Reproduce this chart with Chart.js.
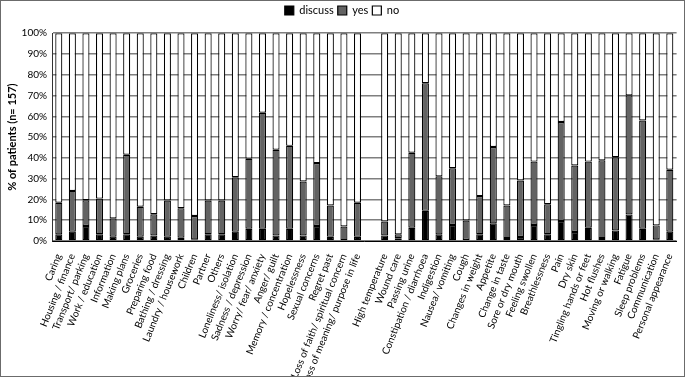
<!DOCTYPE html>
<html>
<head>
<meta charset="utf-8">
<script src="https://cdn.jsdelivr.net/npm/chart.js@4"></script>
<style>
  body { margin: 0; background: #fff; }
  #wrap { width: 685px; height: 377px; box-sizing: border-box; border: 1px solid #6b6b6b; }
</style>
</head>
<body>
<div id="wrap"><canvas id="chart"></canvas></div>
<script>
// categories (empty string = gap between the two groups)
const categories = [
  'Caring', 'Housing / finance', 'Transport/ parking', 'Work / education', 'Information',
  'Making plans', 'Groceries', 'Preparing food', 'Bathing / dressing', 'Laundry / housework',
  'Children', 'Partner', 'Others', 'Loneliness/ isolation', 'Sadness / depression',
  'Worry/ fear/ anxiety', 'Anger/ guilt', 'Memory / concentration', 'Hopelessness',
  'Sexual concerns', 'Regret past', 'Loss of faith/ spiritual concern',
  'Loss of meaning/ purpose in life', '',
  'High temperature', 'Wound care', 'Passing urine', 'Constipation / diarrhoea', 'Indigestion',
  'Nausea/ vomiting', 'Cough', 'Changes in weight', 'Appetite', 'Change in taste',
  'Sore or dry mouth', 'Feeling swollen', 'Breathlessness', 'Pain', 'Dry skin',
  'Tingling hands or feet', 'Hot flushes', 'Moving or walking', 'Fatigue', 'Sleep problems',
  'Communication', 'Personal appearance'
];

// % of patients
const discuss = [
  3.2, 4.5, 7.2, 3.3, 2.1, 3.3, 2.1, 2.7, 2.1, 1.6, 0.8, 3.3, 3.3, 4.5, 5.9,
  5.9, 2.7, 5.9, 2.7, 7.2, 2.0, 0, 2.0, null,
  2.7, 1.3, 6.4, 14.5, 3.2, 7.7, 0.5, 3.3, 8.5, 1.4, 1.9, 7.7, 3.3, 9.6, 4.3,
  6.4, 1.4, 5.1, 12.8, 5.9, 0.8, 4.5
];
const yes = [
  15.2, 19.6, 12.4, 17.1, 8.8, 38.2, 14.4, 10.2, 17.4, 14.2, 11.2, 16.2, 16.2, 26.2, 33.7,
  55.8, 41.2, 39.9, 25.9, 30.3, 15.1, 7.0, 16.4, null,
  6.7, 1.9, 36.1, 61.4, 27.9, 27.3, 9.4, 18.3, 36.7, 15.7, 27.2, 30.5, 14.4, 47.7, 32.0,
  31.8, 37.4, 35.2, 57.3, 52.1, 6.7, 29.8
];
const no = [
  81.6, 75.9, 80.4, 79.6, 89.1, 58.5, 83.5, 87.1, 80.5, 84.2, 88.0, 80.5, 80.5, 69.3, 60.4,
  38.3, 56.1, 54.2, 71.4, 62.5, 82.9, 93.0, 81.6, null,
  90.6, 96.8, 57.5, 24.1, 68.9, 65.0, 90.1, 78.4, 54.8, 82.9, 70.9, 61.8, 82.3, 42.7, 63.7,
  61.8, 61.2, 59.7, 29.9, 42.0, 92.5, 65.7
];

const yTicks = [0, 10, 20, 30, 40, 50, 60, 70, 80, 90, 100];

const font = 'Lato, "Liberation Sans", sans-serif';

const bar = (label, data, color) => ({
  label: label,
  data: data,
  backgroundColor: color,
  borderColor: '#000',
  borderWidth: 1.2,
  borderSkipped: false,
  barPercentage: 0.52,
  categoryPercentage: 1.0,
});

new Chart(document.getElementById('chart'), {
  type: 'bar',
  data: {
    labels: categories,
    datasets: [
      bar('discuss', discuss, '#000000'),
      bar('yes', yes, '#636363'),
      bar('no', no, '#ffffff'),
    ],
  },
  options: {
    responsive: true,
    maintainAspectRatio: false,
    animation: false,
    layout: { padding: { top: 0, right: 6, left: 5, bottom: 0 } },
    plugins: {
      legend: {
        position: 'top',
        labels: {
          font: { family: font, size: 11 },
          color: '#000',
          boxWidth: 9,
          boxHeight: 9,
          padding: 4,
        },
      },
      // spacer between legend and plot (low weight = sits inside the legend)
      subtitle: {
        display: true,
        text: ' ',
        weight: 500,
        font: { size: 1 },
        padding: { top: 0, bottom: 6 },
      },
      tooltip: { enabled: false },
    },
    scales: {
      x: {
        stacked: true,
        grid: { display: false },
        border: { display: true, color: '#000', width: 1 },
        ticks: {
          autoSkip: false,
          minRotation: 68,
          maxRotation: 68,
          padding: 3,
          color: '#000',
          font: { family: font, size: 10 },
        },
        afterFit: (s) => { s.height = 135; },
      },
      y: {
        stacked: true,
        min: 0,
        max: 100,
        afterBuildTicks: (s) => { s.ticks = yTicks.map(v => ({ value: v })); },
        ticks: {
          callback: (v) => v + '%',
          color: '#000',
          padding: 5,
          font: { family: font, size: 10 },
        },
        grid: { color: '#7f7f7f', lineWidth: 1.5, drawTicks: false },
        border: { display: true, color: '#333', width: 1 },
        title: {
          display: true,
          text: '% of patients (n= 157)',
          color: '#000',
          padding: 0,
          font: { family: font, size: 11, weight: 'bold' },
        },
        afterFit: (s) => { s.width = 46; },
      },
    },
  },
});
</script>
</body>
</html>
